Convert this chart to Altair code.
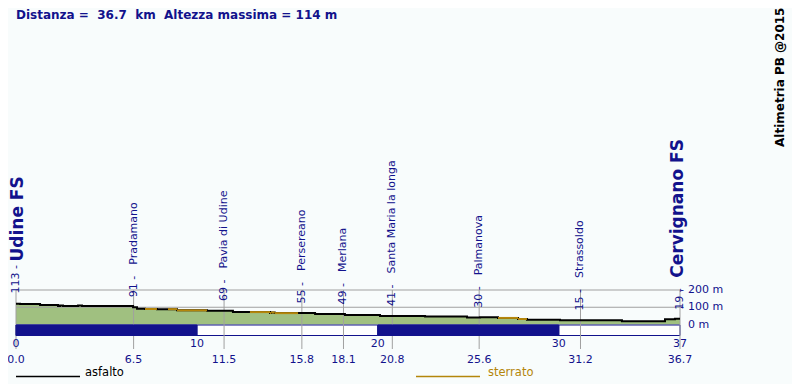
import altair as alt
import pandas as pd

TOTAL_KM = 36.7

# --- elevation profile (step segments) ---
seg_start = [0, 0.22, 1.33, 2.32, 2.43, 2.6, 3.43, 3.65, 6.47, 6.69, 7.13, 7.79, 8.40, 8.90,
             10.56, 11.99, 12.93, 14.04, 14.10, 14.30, 15.59, 16.53, 18.18, 20.12, 22.61,
             24.93, 25.65, 26.64, 27.75, 28.24, 30.07, 33.49, 35.87, 36.42]
seg_m = [121, 119, 113, 107, 110, 107, 110, 107, 100, 92, 90, 89, 89, 82,
         80, 72, 72, 66, 70, 66, 66, 61, 55, 49, 47,
         40, 42, 38, 32, 28, 25, 19, 30, 33]
seg_surface = ["asfalto"] * len(seg_start)
for i in [10, 12, 13, 16, 17, 18, 19, 27, 28]:
    seg_surface[i] = "sterrato"

# --- locations ---
loc_km = [0.0, 6.5, 11.5, 15.8, 18.1, 20.8, 25.6, 31.2, 36.7]
loc_m = [113, 91, 69, 55, 49, 41, 30, 15, 19]
loc_name = ["Udine FS", "Pradamano", "Pavia di Udine", "Persereano", "Merlana",
            "Santa Maria la longa", "Palmanova", "Strassoldo", "Cervignano FS"]
loc_km_label = ["0.0", "6.5", "11.5", "15.8", "18.1", "20.8", "25.6", "31.2", "36.7"]
loc_kind = ["start", "mid", "mid", "mid", "mid", "mid", "mid", "mid", "end"]

# --- km bands / ticks ---
band_start = [0, 10, 20, 30]
band_end = [10, 20, 30, 36.7]
band_fill = ["navy", "white", "navy", "white"]
km_ticks = [0, 10, 20, 30, 36.7]
km_tick_labels = ["0", "10", "20", "30", "37"]

# --- altitude ticks ---
alt_ticks = [200, 100, 0]
alt_tick_labels = ["200 m", "100 m", "0 m"]
grid_m = [200, 100]

title_text = "Distanza =\u00a0 36.7\u00a0 km\u00a0 Altezza massima = 114 m"
credit_text = "Altimetria PB @2015"
legend_labels = ["asfalto", "sterrato"]

NAVY = "#12128c"
GOLD = "#b4860b"
GREEN = "#a0c080"
GRID = "#a0a0a0"
FONT = "DejaVu Sans"

xs = alt.Scale(domain=[0, TOTAL_KM], range=[8, 672])
ys = alt.Scale(domain=[0, 200], range=[316.5, 282])
X = alt.X("km:Q", scale=xs, axis=None)
Y = alt.Y("m:Q", scale=ys, axis=None)

prof = pd.DataFrame({"km": seg_start + [TOTAL_KM], "m": seg_m + [seg_m[-1]]})
segs = pd.DataFrame({"km": seg_start, "km2": seg_start[1:] + [TOTAL_KM], "m": seg_m,
                     "surface": seg_surface})
locs = pd.DataFrame({"km": loc_km, "m": loc_m, "name": loc_name,
                     "num": [f"{v} -" for v in loc_m], "kmlab": loc_km_label,
                     "kind": loc_kind})
bands = pd.DataFrame({"km": band_start, "km2": band_end, "fill": band_fill})
ticks = pd.DataFrame({"km": km_ticks, "lab": km_tick_labels})
alts = pd.DataFrame({"km": [TOTAL_KM] * 3, "m": alt_ticks, "lab": alt_tick_labels})
grid = pd.DataFrame({"km": [0] * 2, "km2": [TOTAL_KM] * 2, "m": grid_m})

area = alt.Chart(prof).mark_area(interpolate="step-after", color=GREEN).encode(x=X, y=Y)

hgrid = alt.Chart(grid).mark_rule(color=GRID, strokeWidth=1).encode(x=X, x2="km2:Q", y=Y)

bar_outline = alt.Chart(bands).mark_rect(fill="white", stroke=NAVY, strokeWidth=1).encode(
    x=X, x2="km2:Q", y=alt.value(317), y2=alt.value(327.5))

vgrid = alt.Chart(locs).mark_rule(color=GRID, strokeWidth=1).encode(
    x=X, y=alt.value(282), y2=alt.value(341))

bar_fill = alt.Chart(bands).transform_filter(alt.datum.fill == "navy").mark_rect(
    fill=NAVY, stroke=NAVY, strokeWidth=1).encode(
    x=X, x2="km2:Q", y=alt.value(317), y2=alt.value(327.5))

line = alt.Chart(prof).mark_line(interpolate="step-after", color="black", strokeWidth=2).encode(
    x=X, y=Y)

dirt = alt.Chart(segs).transform_filter(alt.datum.surface == "sterrato").mark_rule(
    color=GOLD, strokeWidth=2).encode(x=X, x2="km2:Q", y=Y)

nums = alt.Chart(locs).mark_text(angle=270, align="left", baseline="middle", dx=11.5,
                                 font=FONT, fontSize=11, color=NAVY).encode(
    x=X, y=Y, text="num:N")

names = alt.Chart(locs).transform_filter(alt.datum.kind == "mid").mark_text(
    angle=270, align="left", baseline="middle", dx=44, font=FONT, fontSize=11,
    color=NAVY).encode(x=X, y=Y, text="name:N")

start_name = alt.Chart(locs).transform_filter(alt.datum.kind == "start").mark_text(
    angle=270, align="left", baseline="middle", dx=43.5, dy=1.5, font=FONT, fontSize=17,
    fontWeight="bold", color=NAVY).encode(x=X, y=Y, text="name:N")

end_name = alt.Chart(locs).transform_filter(alt.datum.kind == "end").mark_text(
    angle=270, align="left", baseline="middle", dx=43.5, dy=-2.5, font=FONT, fontSize=17,
    fontWeight="bold", color=NAVY).encode(x=X, y=Y, text="name:N")

km_row = alt.Chart(ticks).mark_text(align="center", baseline="middle", font=FONT,
                                    fontSize=11, color=NAVY).encode(
    x=X, y=alt.value(335.5), text="lab:N")

loc_row = alt.Chart(locs).mark_text(align="center", baseline="middle", font=FONT,
                                    fontSize=11, color=NAVY).encode(
    x=X, y=alt.value(352), text="kmlab:N")

alt_dash = alt.Chart(alts).transform_filter(alt.datum.m > 0).mark_text(
    align="left", baseline="middle", font=FONT, fontSize=11, color=NAVY).encode(
    x=X, y=Y, text=alt.value("-"))

alt_lab = alt.Chart(alts).mark_text(align="left", baseline="middle", dx=8, font=FONT,
                                    fontSize=11, color=NAVY).encode(x=X, y=Y, text="lab:N")

title = alt.Chart(pd.DataFrame({"t": [title_text]})).mark_text(
    align="left", baseline="alphabetic", font=FONT, fontSize=12, fontWeight="bold",
    color=NAVY).encode(x=alt.value(8), y=alt.value(11.3), text="t:N")

credit = alt.Chart(pd.DataFrame({"t": [credit_text]})).mark_text(
    angle=270, align="left", baseline="alphabetic", font=FONT, fontSize=12,
    fontWeight="bold", color="black").encode(x=alt.value(776), y=alt.value(139), text="t:N")

leg = pd.DataFrame({"lab": legend_labels, "x": [8, 408], "x2": [72, 472],
                    "tx": [77, 480], "col": ["black", GOLD]})
leg_lines = alt.Chart(leg).mark_rule(strokeWidth=1.5).encode(
    x=alt.X("x:Q", scale=None), x2="x2:Q", y=alt.value(368.5),
    color=alt.Color("col:N", scale=None))
leg_text = alt.Chart(leg).mark_text(align="left", baseline="alphabetic", font=FONT,
                                    fontSize=11.5).encode(
    x=alt.X("tx:Q", scale=None), y=alt.value(368), text="lab:N",
    color=alt.Color("col:N", scale=None))

chart = alt.layer(
    area, hgrid, bar_outline, vgrid, bar_fill, line, dirt, nums, names, start_name, end_name,
    km_row, loc_row, alt_dash, alt_lab, title, credit, leg_lines, leg_text
).properties(
    width=784, height=376, padding=0, background="#f8fcfc",
    autosize=alt.AutoSizeParams(type="none")
).configure_view(stroke=None)

chart.save("out.html", embed_options={"renderer": "svg", "actions": False})
